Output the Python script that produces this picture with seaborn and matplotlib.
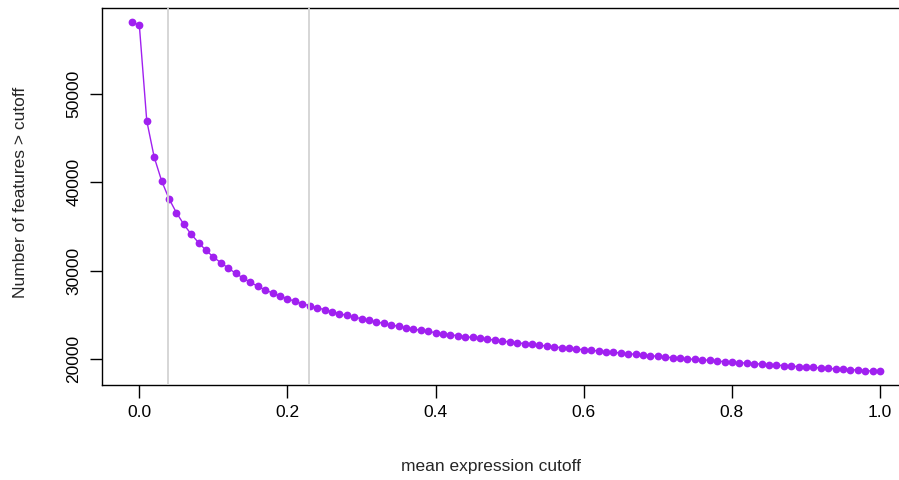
import numpy as np
import pandas as pd
import matplotlib
matplotlib.use("Agg")
import matplotlib.pyplot as plt
import seaborn as sns

# Mean-expression cutoffs and the number of features passing each one
cutoff = [round(-0.01 + 0.01 * i, 2) for i in range(102)]
n_features = [
    58150, 57780, 46980, 42870, 40190, 38150, 36570, 35250, 34120, 33170,
    32305, 31547, 30900, 30300, 29700, 29170, 28680, 28230, 27810, 27470,
    27130, 26830, 26530, 26260, 26030, 25810, 25580, 25350, 25130, 24950,
    24750, 24560, 24380, 24190, 24040, 23850, 23700, 23543, 23396, 23249,
    23136, 22977, 22864, 22751, 22638, 22524, 22440, 22343, 22230, 22151,
    22038, 21924, 21845, 21745, 21664, 21560, 21472, 21370, 21285, 21211,
    21132, 21053, 20985, 20906, 20830, 20758, 20679, 20600, 20532, 20453,
    20374, 20306, 20226, 20147, 20079, 20010, 19960, 19910, 19850, 19774,
    19700, 19630, 19580, 19540, 19470, 19430, 19360, 19320, 19250, 19205,
    19135, 19094, 19055, 18985, 18945, 18875, 18834, 18790, 18755, 18680,
    18642, 18608,
]
# Chosen cutoffs marked with reference lines
marked_cutoffs = [0.039, 0.229]

df = pd.DataFrame({"cutoff": cutoff, "n": n_features})

sns.set_theme(style="ticks")
plt.rcParams["font.family"] = ["Liberation Sans", "DejaVu Sans"]

W, H = 899, 480
fig = plt.figure(figsize=(W / 100, H / 100), dpi=100)
ax = fig.add_axes([102 / W, (H - 385.3) / H, (910 - 102) / W, (385.3 - 8) / H])

sns.lineplot(data=df, x="cutoff", y="n", ax=ax, color="#A020F0",
             linewidth=1.0, marker="o", markersize=5.6,
             markeredgewidth=0, markerfacecolor="#A020F0")

for c in marked_cutoffs:
    ax.axvline(c, color="#D3D3D3", linewidth=1.3, zorder=5)

# R-style 4% padding around the data range
x0, x1 = min(cutoff), max(cutoff)
y0, y1 = min(n_features), max(n_features)
px, py = 0.04 * (x1 - x0), 0.04 * (y1 - y0)
ax.set_xlim(x0 - px, x1 + px)
ax.set_ylim(y0 - py, y1 + py)

ax.set_xticks([0.0, 0.2, 0.4, 0.6, 0.8, 1.0])
ax.set_xticklabels(["0.0", "0.2", "0.4", "0.6", "0.8", "1.0"])
ax.set_yticks([20000, 30000, 40000, 50000])
ax.set_yticklabels(["20000", "30000", "40000", "50000"], rotation=90, va="center")

for s in ax.spines.values():
    s.set_color("black")
    s.set_linewidth(1.0)
ax.tick_params(axis="both", direction="out", length=9, width=1.0,
               colors="black", labelsize=12.5)
ax.tick_params(axis="x", pad=5)
ax.tick_params(axis="y", pad=6)

ax.set_xlabel("mean expression cutoff", fontsize=12.5, labelpad=0)
ax.set_ylabel("Number of features > cutoff", fontsize=12.5, labelpad=0)
ax.xaxis.set_label_coords(491 / W, (H - 467) / H, transform=fig.transFigure)
ax.xaxis.label.set_verticalalignment("center")
ax.yaxis.set_label_coords(21 / W, (H - 192) / H, transform=fig.transFigure)
ax.yaxis.label.set_verticalalignment("center")
ax.grid(False)

fig.savefig("out.png", dpi=100)
